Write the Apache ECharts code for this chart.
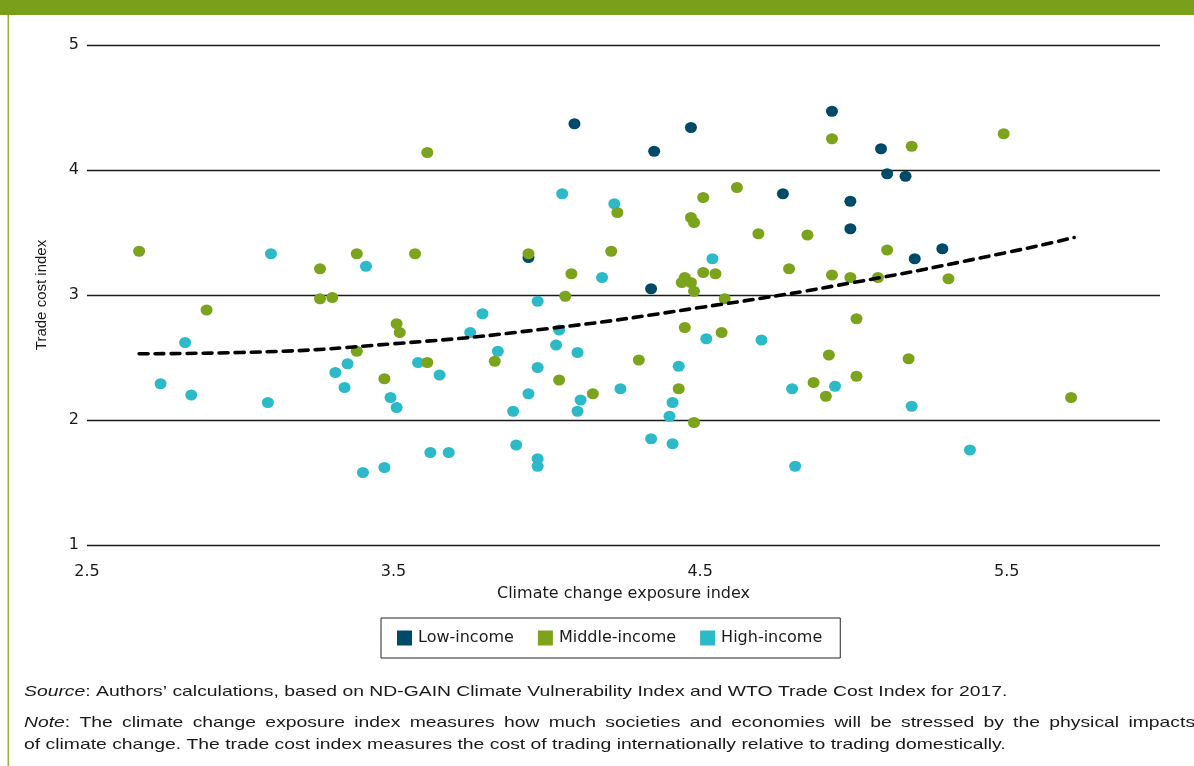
<!DOCTYPE html>
<html>
<head>
<meta charset="utf-8">
<script src="https://cdn.jsdelivr.net/npm/echarts@6/dist/echarts.min.js"></script>
<style>
html,body{margin:0;padding:0;background:#fff;}
#c{width:1194px;height:766px;}
</style>
</head>
<body>
<div id="c"></div>
<script>
// ---- data ----
var seriesNames = ['Low-income', 'Middle-income', 'High-income'];
var lowX = [4.09, 4.93, 4.47, 4.35, 5.09, 5.11, 5.17, 4.77, 4.99, 4.99, 3.94, 4.34, 5.29, 5.20];
var lowY = [4.37, 4.47, 4.34, 4.15, 4.17, 3.97, 3.95, 3.81, 3.75, 3.53, 3.30, 3.05, 3.37, 3.29];
var midX = [2.67, 2.89, 3.26, 3.26, 3.30, 3.38, 3.51, 3.52, 3.57, 3.61, 3.94, 4.21, 4.23, 4.08, 4.06,
            4.47, 4.48, 4.51, 4.62, 4.69, 4.45, 4.44, 4.47, 4.48, 4.51, 4.55, 4.58, 4.45, 4.57,
            4.93, 5.19, 5.49, 4.85, 4.79, 4.93, 4.99, 5.11, 5.08, 5.31, 5.01,
            3.38, 3.47, 3.61, 3.83, 4.04, 4.15, 4.30, 4.43, 4.48, 4.92, 4.87, 4.91, 5.01, 5.18, 5.71];
var midY = [3.35, 2.88, 3.21, 2.97, 2.98, 3.33, 2.77, 2.70, 3.33, 4.14, 3.33, 3.35, 3.66, 3.17, 2.99,
            3.62, 3.58, 3.78, 3.86, 3.49, 3.14, 3.10, 3.10, 3.03, 3.18, 3.17, 2.97, 2.74, 2.70,
            4.25, 4.19, 4.29, 3.48, 3.21, 3.16, 3.14, 3.36, 3.14, 3.13, 2.81,
            2.55, 2.33, 2.46, 2.47, 2.32, 2.21, 2.48, 2.25, 1.98, 2.52, 2.30, 2.19, 2.35, 2.49, 2.18];
var highX = [3.10, 3.41, 4.05, 4.22, 4.18, 4.54, 3.97, 3.79, 3.75, 4.04, 4.03, 3.84, 4.10, 4.52, 4.70,
             2.82, 2.74, 2.84, 3.09, 3.35, 3.31, 3.34, 3.58, 3.65, 3.49, 3.51, 3.62, 3.68, 3.40, 3.47,
             3.97, 3.94, 3.89, 4.11, 4.10, 4.24, 4.43, 4.41, 4.40, 3.90, 3.97, 3.97, 4.34, 4.41,
             4.80, 4.94, 4.81, 5.19, 5.38];
var highY = [3.33, 3.23, 3.81, 3.73, 3.14, 3.29, 2.95, 2.85, 2.70, 2.72, 2.60, 2.55, 2.54, 2.65, 2.64,
             2.62, 2.29, 2.20, 2.14, 2.45, 2.38, 2.26, 2.46, 2.36, 2.18, 2.10, 1.74, 1.74, 1.58, 1.62,
             2.42, 2.21, 2.07, 2.16, 2.07, 2.25, 2.43, 2.14, 2.03, 1.80, 1.69, 1.63, 1.85, 1.81,
             2.25, 2.27, 1.63, 2.11, 1.76];
var trendX = [2.67, 3.0, 3.5, 4.0, 4.5, 5.0, 5.5, 5.72];
var trendY = [2.53, 2.54, 2.61, 2.73, 2.90, 3.10, 3.34, 3.46];
var xTicks = [2.5, 3.5, 4.5, 5.5];
var yTicks = [1, 2, 3, 4, 5];
var xTitle = 'Climate change exposure index';
var yTitle = 'Trade cost index';
var sourceLabel = 'Source';
var sourceText = ': Authors\u2019 calculations, based on ND-GAIN Climate Vulnerability Index and WTO Trade Cost Index for 2017.';
var noteLabel = 'Note';
var noteLine1 = ': The climate change exposure index measures how much societies and economies will be stressed by the physical impacts';
var noteLine2 = 'of climate change. The trade cost index measures the cost of trading internationally relative to trading domestically.';

var colors = {low: '#004a69', mid: '#7ba31b', high: '#2cbac8'};
var FONT = 'Liberation Sans';
var WIDE = 'DejaVu Sans';
var INK = '#1a1a1a';

function zip(xs, ys) { return xs.map(function (x, i) { return [x, ys[i]]; }); }

var chart = echarts.init(document.getElementById('c'), null, {renderer: 'canvas'});
var dot = [12, 11];
var richStyle = {
  i: {fontStyle: 'italic', fontSize: 15, fontFamily: FONT, fill: INK},
  n: {fontSize: 15, fontFamily: FONT, fill: INK}
};
chart.setOption({
  animation: false,
  backgroundColor: '#fff',
  textStyle: {fontFamily: FONT},
  grid: {left: 87, right: 34, top: 45, bottom: 221, containLabel: false},
  xAxis: {
    type: 'value', min: 2.5, max: 6, interval: 1,
    axisLine: {show: false}, axisTick: {show: false}, splitLine: {show: false},
    axisLabel: {show: true, showMaxLabel: false, margin: 19, color: INK, fontSize: 16, fontFamily: WIDE,
      formatter: function (v) { return xTicks.indexOf(Math.round(v * 10) / 10) >= 0 ? v.toFixed(1) : ''; }},
    name: xTitle, nameLocation: 'middle', nameGap: 41,
    nameTextStyle: {color: INK, fontSize: 16, fontFamily: WIDE}
  },
  yAxis: {
    type: 'value', min: 1, max: 5, interval: 1,
    axisLine: {show: false}, axisTick: {show: false},
    splitLine: {show: true, lineStyle: {color: INK, width: 1.3}},
    axisLabel: {margin: 8, color: INK, fontSize: 16, fontFamily: WIDE,
      formatter: function (v) { return yTicks.indexOf(v) >= 0 ? String(v) : ''; }},
    name: yTitle, nameLocation: 'middle', nameGap: 38, nameRotate: 90,
    nameTextStyle: {color: INK, fontSize: 15, fontFamily: FONT}
  },
  legend: {
    data: seriesNames, left: 381, top: 618, orient: 'horizontal',
    borderColor: '#222', borderWidth: 1, padding: [12, 18, 12, 16], itemGap: 24,
    itemWidth: 15, itemHeight: 15, icon: 'rect',
    textStyle: {color: INK, fontSize: 16, fontFamily: WIDE, padding: [0, 0, 0, 1]}
  },
  series: [
    {name: seriesNames[0], type: 'scatter', symbol: 'circle', symbolSize: dot, z: 2,
      itemStyle: {color: colors.low, opacity: 1}, data: zip(lowX, lowY)},
    {name: seriesNames[2], type: 'scatter', symbol: 'circle', symbolSize: dot, z: 3,
      itemStyle: {color: colors.high, opacity: 1}, data: zip(highX, highY)},
    {name: seriesNames[1], type: 'scatter', symbol: 'circle', symbolSize: dot, z: 4,
      itemStyle: {color: colors.mid, opacity: 1}, data: zip(midX, midY)},
    {name: 'trend', type: 'line', smooth: true, showSymbol: false, symbol: 'none', z: 5,
      lineStyle: {color: '#000', width: 3.6, type: [9, 7], cap: 'round'},
      data: zip(trendX, trendY), silent: true}
  ],
  graphic: [
    {type: 'rect', left: 0, top: 0, shape: {width: 1194, height: 15}, style: {fill: '#7a9f1b'}},
    {type: 'rect', left: 7.5, top: 15, shape: {width: 1.5, height: 751}, style: {fill: '#8fb43e'}},
    {type: 'text', x: 24, y: 692, scaleX: 1.29, style: {rich: richStyle, verticalAlign: 'middle',
      text: '{i|' + sourceLabel + '}{n|' + sourceText + '}'}},
    {type: 'text', x: 24, y: 723, scaleX: 1.29, style: {rich: richStyle, verticalAlign: 'middle',
      text: '{i|' + noteLabel + '}{n|' + noteLine1.replace(/ /g, ' \u2009') + '}'}},
    {type: 'text', x: 24, y: 745, scaleX: 1.29, style: {text: noteLine2, verticalAlign: 'middle',
      fontSize: 15, fontFamily: FONT, fill: INK}}
  ]
});
</script>
</body>
</html>
